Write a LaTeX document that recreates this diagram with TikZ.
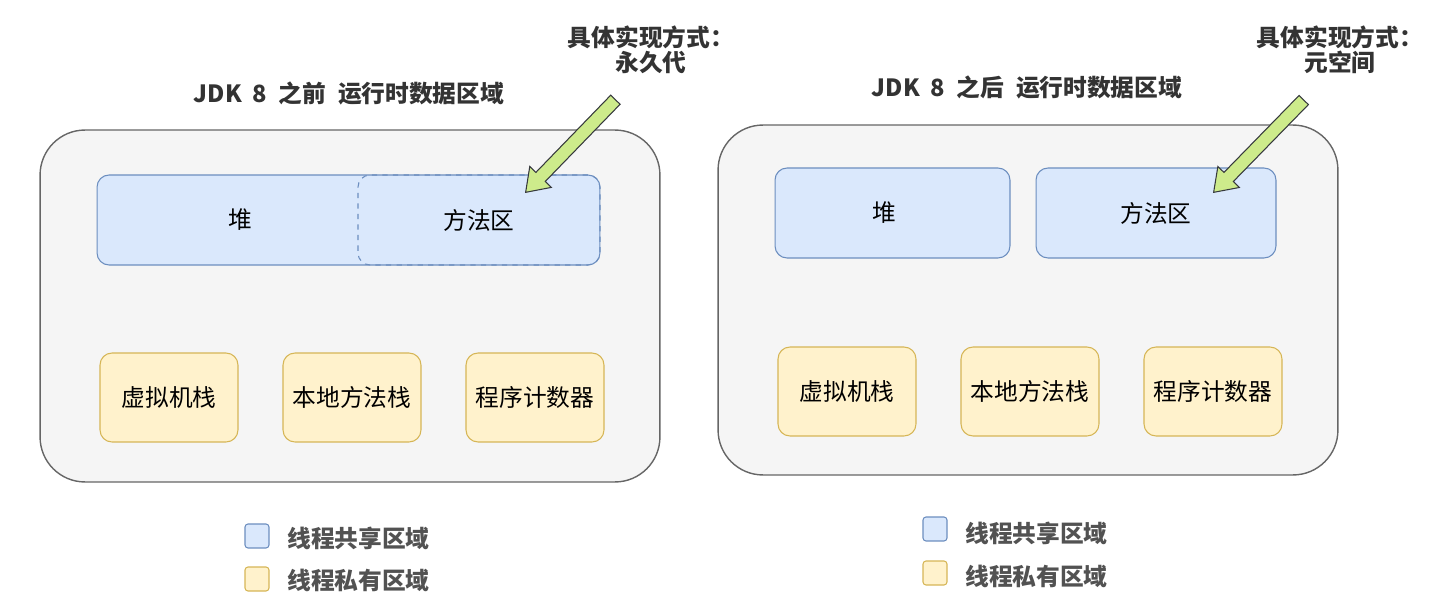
\documentclass[tikz,border=0pt]{standalone}
\usepackage{fontspec}
\setmainfont{Noto Sans CJK SC}
\usepackage{xcolor}
\usepackage{tikz}
\usetikzlibrary{shapes.arrows}
\definecolor{shared}{HTML}{DAE8FC}
\definecolor{sharedln}{HTML}{6C8EBF}
\definecolor{owned}{HTML}{FFF2CC}
\definecolor{ownedln}{HTML}{D6B656}
\definecolor{areabg}{HTML}{F5F5F5}
\definecolor{arealn}{HTML}{666666}
\definecolor{hint}{HTML}{CDEB8B}
\definecolor{hintln}{HTML}{36393D}
\definecolor{ink}{HTML}{333333}

\begin{document}
\begin{tikzpicture}[x=0.02cm, y=-0.02cm,
  every node/.style={font=\fontsize{13.5}{16}\selectfont, inner sep=0pt},
  area/.style={draw=arealn, fill=areabg, line width=0.8pt, rounded corners=0.9cm,
    minimum width=12.4cm},
  sharebox/.style={draw=sharedln, fill=shared, line width=0.6pt, rounded corners=0.24cm,
    minimum height=1.8cm},
  ownbox/.style={draw=ownedln, fill=owned, line width=0.6pt, rounded corners=0.24cm,
    minimum width=2.76cm, minimum height=1.78cm},
  keybox/.style={line width=0.6pt, rounded corners=0.06cm, minimum size=0.48cm},
  keytext/.style={anchor=west, text=ink!85, font=\fontsize{13.5}{16}\selectfont\bfseries},
  title/.style={text=ink, font=\fontsize{13.5}{16}\selectfont\bfseries},
  note/.style={text=ink, align=center, font=\fontsize{13.5}{16}\selectfont\bfseries},
  hintarrow/.style={single arrow, draw=hintln, fill=hint, line width=0.6pt,
    inner sep=0.12cm, minimum height=2.58cm, single arrow head extend=0.17cm,
    single arrow tip angle=70, anchor=tip}]
\useasboundingbox (0,0) rectangle (1455,615);
% ---- left: before JDK 8
\node[title] (titleA) at (349,93)
  {JDK\hspace{0.45em}8\hspace{0.5em}之前\hspace{0.5em}运行时数据区域};
\node[area, minimum height=7.04cm] (areaA) at (350,306) {};
\node[sharebox, minimum width=10.06cm] (heapA) at (348.5,220) {};
\node at (240,220) (heapAtxt) {堆};
\node[sharebox, fill=none, dashed, minimum width=4.84cm] (methodA) at (479,220) {方法区};
\node[ownbox] (vmA) at (169,397.5) {虚拟机栈};
\node[ownbox] (nativeA) at (352,397.5) {本地方法栈};
\node[ownbox] (pcA) at (535,397.5) {程序计数器};
\node[note] (noteA) at (651,50) {具体实现方式：\\[-2pt]永久代};
\node[hintarrow, rotate=225.9] (arrowA) at (525,193) {};
\node[keybox, draw=sharedln, fill=shared] (keyshareA) at (257,536) {};
\node[keytext] (keyshareAtxt) at (287,538) {线程共享区域};
\node[keybox, draw=ownedln, fill=owned] (keyownA) at (257,579) {};
\node[keytext] (keyownAtxt) at (287,580) {线程私有区域};
% ---- right: after JDK 8
\node[title] (titleB) at (1027,87)
  {JDK\hspace{0.45em}8\hspace{0.5em}之后\hspace{0.5em}运行时数据区域};
\node[area, minimum height=7cm] (areaB) at (1028,300) {};
\node[sharebox, minimum width=4.7cm] (heapB) at (892.5,213) {};
\node at (884,213) (heapBtxt) {堆};
\node[sharebox, minimum width=4.8cm] (methodB) at (1156,213) {方法区};
\node[ownbox] (vmB) at (847,391.5) {虚拟机栈};
\node[ownbox] (nativeB) at (1030,391.5) {本地方法栈};
\node[ownbox] (pcB) at (1213,391.5) {程序计数器};
\node[note] (noteB) at (1340,50) {具体实现方式：\\[-2pt]元空间};
\node[hintarrow, rotate=225.7] (arrowB) at (1213,193) {};
\node[keybox, draw=sharedln, fill=shared] (keyshareB) at (935,529) {};
\node[keytext] (keyshareBtxt) at (965,533) {线程共享区域};
\node[keybox, draw=ownedln, fill=owned] (keyownB) at (935,573) {};
\node[keytext] (keyownBtxt) at (965,576) {线程私有区域};
\end{tikzpicture}
\end{document}
